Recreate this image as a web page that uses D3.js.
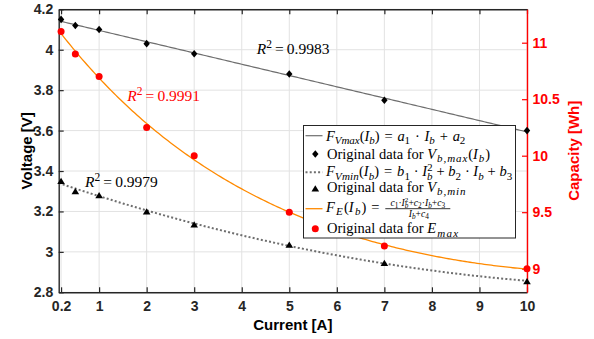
<!DOCTYPE html>
<html><head><meta charset="utf-8">
<script src="https://cdn.jsdelivr.net/npm/d3@7"></script>
<style>
body{margin:0;background:#fff}
svg{display:block}
.tick text{font-family:"Liberation Sans",Arial,sans-serif;font-weight:bold;font-size:14px}
.mtxt{font-family:"Liberation Serif","Times New Roman",serif}
</style>
</head><body><svg id="chart" width="594" height="339"></svg>
<script>
// Measured battery data versus discharge current
const current = [0.2, 0.5, 1, 2, 3, 5, 7, 10];
const vMax = [4.15, 4.12, 4.10, 4.03, 3.98, 3.88, 3.75, 3.60];
const vMin = [3.35, 3.30, 3.28, 3.20, 3.135, 3.035, 2.945, 2.855];
const eMax = [11.10, 10.90, 10.70, 10.25, 10.00, 9.50, 9.20, 9.00];

const xTicks = [0.2, 1, 2, 3, 4, 5, 6, 7, 8, 9, 10];
const vTicks = [2.8, 3, 3.2, 3.4, 3.6, 3.8, 4, 4.2];
const eTicks = [9, 9.5, 10, 10.5, 11];
const r2Values = ["0.9983", "0.9991", "0.9979"];

const L = 58.7, R = 527, T = 9.3, B = 292.3;

const svg = d3.select("#chart");
const x = d3.scaleLinear().domain([0.15, 10]).range([L, R]);
const yV = d3.scaleLinear().domain([2.8, 4.2]).range([B, T]);
const yE = d3.scaleLinear().domain([8.791, 11.2956]).range([B, T]);

// ---- least squares helpers ----
function solve(A, b) {
  const n = b.length, M = A.map((r, i) => [...r, b[i]]);
  for (let c = 0; c < n; c++) {
    let p = c;
    for (let r = c + 1; r < n; r++) if (Math.abs(M[r][c]) > Math.abs(M[p][c])) p = r;
    [M[c], M[p]] = [M[p], M[c]];
    for (let r = 0; r < n; r++) {
      if (r === c) continue;
      const f = M[r][c] / M[c][c];
      for (let k = c; k <= n; k++) M[r][k] -= f * M[c][k];
    }
  }
  return M.map((r, i) => r[n] / r[i]);
}
function leastSquares(basis, xs, ys) {
  const rows = xs.map(basis), m = rows[0].length;
  const A = d3.range(m).map(i => d3.range(m).map(j => d3.sum(rows, r => r[i] * r[j])));
  const b = d3.range(m).map(i => d3.sum(rows, (r, k) => r[i] * ys[k]));
  return solve(A, b);
}

// F_Vmax: linear
const a = leastSquares(I => [I, 1], current, vMax);
const fVmax = I => a[0] * I + a[1];
// F_Vmin: quadratic
const bq = leastSquares(I => [I * I, I, 1], current, vMin);
const fVmin = I => bq[0] * I * I + bq[1] * I + bq[2];
// F_E: rational (c1 I^2 + c2 I + c3) / (I + c4), scan c4
let best = null;
for (let c4 = 0.2; c4 <= 40; c4 += 0.05) {
  const c = leastSquares(I => [I * I / (I + c4), I / (I + c4), 1 / (I + c4)], current, eMax);
  const f = I => (c[0] * I * I + c[1] * I + c[2]) / (I + c4);
  const sse = d3.sum(current, (I, k) => (f(I) - eMax[k]) ** 2);
  if (!best || sse < best.sse) best = {sse, f};
}
const fE = best.f;

const samples = d3.range(0.15, 10.0001, 0.05);

// ---- grid ----
const grid = svg.append("g").attr("stroke", "#e2e2e2").attr("stroke-width", 1);
grid.selectAll(".gx").data(xTicks).join("line")
  .attr("x1", d => x(d)).attr("x2", d => x(d)).attr("y1", T).attr("y2", B);
grid.selectAll(".gy").data(vTicks).join("line")
  .attr("x1", L).attr("x2", R).attr("y1", d => yV(d)).attr("y2", d => yV(d));

// ---- axes ----
const fmt = d => d3.format("~g")(d);
function styleAxis(g, color) {
  g.select(".domain").attr("stroke", color).attr("stroke-width", 1.4);
  g.selectAll(".tick line").attr("stroke", color).attr("stroke-width", 1.2);
  g.selectAll(".tick text").attr("fill", color);
}
svg.append("g").attr("transform", `translate(0,${B})`)
  .call(d3.axisBottom(x).tickValues(xTicks).tickFormat(fmt).tickSizeInner(-5).tickSizeOuter(0).tickPadding(9))
  .call(g => styleAxis(g, "#262626"));
svg.append("g").attr("transform", `translate(0,${T})`)
  .call(d3.axisTop(x).tickValues(xTicks).tickFormat("").tickSizeInner(-5).tickSizeOuter(0))
  .call(g => styleAxis(g, "#262626"));
svg.append("g").attr("transform", `translate(${L},0)`)
  .call(d3.axisLeft(yV).tickValues(vTicks).tickFormat(fmt).tickSizeInner(-5).tickSizeOuter(0).tickPadding(5.5))
  .call(g => styleAxis(g, "#262626"));
svg.append("g").attr("transform", `translate(${R},0)`)
  .call(d3.axisRight(yE).tickValues(eTicks).tickFormat(fmt).tickSizeInner(-5).tickSizeOuter(0).tickPadding(5.5))
  .call(g => styleAxis(g, "#ff0000"));

// axis titles
const title = (txt, tx, ty, rot, color) => svg.append("text")
  .attr("transform", `translate(${tx},${ty}) rotate(${rot})`)
  .attr("text-anchor", "middle").attr("dominant-baseline", rot ? "central" : "auto")
  .attr("font-family", "Liberation Sans, Arial, sans-serif").attr("font-weight", "bold")
  .attr("font-size", 15).attr("fill", color).text(txt);
title("Voltage [V]", 26, (T + B) / 2, -90, "#000");
title("Capacity [Wh]", 573.5, (T + B) / 2, -90, "#ff0000");
title("Current [A]", (L + R) / 2, 330, 0, "#000");

// ---- curves ----
svg.append("clipPath").attr("id", "plot").append("rect")
  .attr("x", L).attr("y", T).attr("width", R - L).attr("height", B - T);
const curves = svg.append("g").attr("clip-path", "url(#plot)").attr("fill", "none");
curves.append("path").attr("d", d3.line(d => x(d), d => yV(fVmax(d)))(samples))
  .attr("stroke", "#6e6e6e").attr("stroke-width", 1.2);
curves.append("path").attr("d", d3.line(d => x(d), d => yV(fVmin(d)))(samples))
  .attr("stroke", "#6e6e6e").attr("stroke-width", 2).attr("stroke-dasharray", "2 2.2");
curves.append("path").attr("d", d3.line(d => x(d), d => yE(fE(d)))(samples))
  .attr("stroke", "#ff8a00").attr("stroke-width", 1.3);

// ---- markers ----
const diamond = "M0,-3.8L3.2,0L0,3.8L-3.2,0Z";
const triangle = "M0,-3.3L3.8,3L-3.8,3Z";
const marks = svg.append("g");
marks.selectAll(".dm").data(current).join("path")
  .attr("d", diamond).attr("fill", "#000")
  .attr("transform", (d, i) => `translate(${x(d)},${yV(vMax[i])})`);
marks.selectAll(".tr").data(current).join("path")
  .attr("d", triangle).attr("fill", "#000")
  .attr("transform", (d, i) => `translate(${x(d)},${yV(vMin[i])})`);
marks.selectAll(".ci").data(current).join("circle")
  .attr("cx", d => x(d)).attr("cy", (d, i) => yE(eMax[i])).attr("r", 3.5).attr("fill", "#ff0000");

// ---- math-style text builder ----
// part: [text, kind, dx] kind: "" roman, "i" italic, "sub" italic subscript,
// "subr" roman subscript, "supr" roman superscript
function mathText(parent, parts, px, py, size, color) {
  const t = parent.append("text").attr("class", "mtxt").attr("x", px).attr("y", py)
    .attr("font-size", size).attr("fill", color || "#000").attr("xml:space", "preserve");
  let shift = 0;
  parts.forEach(([txt, kind, dx]) => {
    let s = 0, fs = size, it = false;
    if (kind === "i") it = true;
    if (kind === "sub") { s = 0.24 * size; fs = 0.76 * size; it = true; }
    if (kind === "subr") { s = 0.24 * size; fs = 0.76 * size; }
    if (kind === "supr") { s = -0.4 * size; fs = 0.74 * size; }
    const ts = t.append("tspan").attr("dy", s - shift).attr("font-size", fs)
      .attr("font-style", it ? "italic" : "normal").attr("class", kind ? "m" : "r").text(txt);
    if (dx) ts.attr("dx", dx);
    shift = s;
  });
  return t;
}
// adjust spacing of the math symbols of a legend row so that it ends close to endX
function spreadMath(t, endX) {
  const bb = t.node().getBBox();
  const spans = t.selectAll("tspan.m");
  let n = 0;
  spans.each(function () { n += this.textContent.length; });
  const extra = endX - (bb.x + bb.width);
  if (n) spans.attr("letter-spacing", Math.max(-0.8, Math.min(extra / n, 1.2)));
}

// ---- R² annotations ----
const r2Pos = [[256.7, 54.3, "#000"], [127.3, 101, "#ff0000"], [85, 186.7, "#000"]];
r2Values.forEach((v, i) => {
  const [px, py, col] = r2Pos[i];
  mathText(svg, [["R", "i"], ["2", "supr"], ["\u2009=\u2009" + v, ""]], px, py, 15.5, col);
});

// ---- legend ----
const lg = svg.append("g");
lg.append("rect").attr("x", 303.5).attr("y", 125.5).attr("width", 212).attr("height", 112.5)
  .attr("fill", "#fff").attr("stroke", "#262626").attr("stroke-width", 1);
const symY = [135.7, 154, 172.3, 188.5, 208.7, 228.7];
const baseY = [140.5, 158.7, 176.3, 192, 212, 233.3];
const tx = 326, fs = 14.5, sp = "\u2004", sp3 = "\u2005";
lg.append("line").attr("x1", 305.5).attr("x2", 322.5).attr("y1", symY[0]).attr("y2", symY[0])
  .attr("stroke", "#6e6e6e").attr("stroke-width", 1.2);
lg.append("line").attr("x1", 305.5).attr("x2", 322.5).attr("y1", symY[2]).attr("y2", symY[2])
  .attr("stroke", "#6e6e6e").attr("stroke-width", 2).attr("stroke-dasharray", "2 2.2");
lg.append("line").attr("x1", 305.5).attr("x2", 322.5).attr("y1", symY[4]).attr("y2", symY[4])
  .attr("stroke", "#ff8a00").attr("stroke-width", 1.3);
lg.append("path").attr("d", diamond).attr("transform", `translate(315.3,${symY[1]})`);
lg.append("path").attr("d", triangle).attr("transform", `translate(315.3,${symY[3]})`);
lg.append("circle").attr("cx", 315.3).attr("cy", symY[5]).attr("r", 3.5).attr("fill", "#ff0000");

const r1 = mathText(lg, [["F", "i"], ["Vmax", "sub"], ["(", ""], ["I", "i"], ["b", "sub"], [")" + sp + "=" + sp, ""],
  ["a", "i"], ["1", "subr"], [sp + "·" + sp, ""], ["I", "i"], ["b", "sub"], [sp + "+" + sp, ""], ["a", "i"], ["2", "subr"]],
  tx, baseY[0], fs);
spreadMath(r1, 465.3);
const r2 = mathText(lg, [["Original data for ", ""], ["V", "i"], ["b,max", "sub"], ["(", ""], ["I", "i"], ["b", "sub"], [")", ""]],
  tx + 1, baseY[1], fs);
spreadMath(r2, 490.3);
const r3 = mathText(lg, [["F", "i"], ["Vmin", "sub"], ["(", ""], ["I", "i"], ["b", "sub"], [")" + sp + "=" + sp, ""],
  ["b", "i"], ["1", "subr"], [sp3 + "·" + sp3, ""], ["I", "i"], ["2", "supr"], ["b", "sub", -5.6], [sp3 + "+" + sp3, ""],
  ["b", "i"], ["2", "subr"], [sp3 + "·" + sp3, ""], ["I", "i"], ["b", "sub"], [sp3 + "+" + sp3, ""], ["b", "i"], ["3", "subr"]],
  tx, baseY[2], fs);
spreadMath(r3, 513);
const r4 = mathText(lg, [["Original data for ", ""], ["V", "i"], ["b,min", "sub"]],
  tx + 1, baseY[3], fs);
spreadMath(r4, 467);
const r5 = mathText(lg, [["F", "i"], ["E", "sub"], ["(", ""], ["I", "i"], ["b", "sub"], [")" + sp + "=", ""]],
  tx, baseY[4], fs);
spreadMath(r5, 380.3);
// fraction
const fx = 385.3, fw = 65;
lg.append("line").attr("x1", fx).attr("x2", fx + fw).attr("y1", 208.7).attr("y2", 208.7)
  .attr("stroke", "#000").attr("stroke-width", 0.8);
mathText(lg, [["c", "i"], ["1", "subr"], ["·", ""], ["I", "i"], ["2", "supr"], ["b", "sub", -3.6], ["+", ""],
  ["c", "i"], ["2", "subr"], ["·", ""], ["I", "i"], ["b", "sub"], ["+", ""], ["c", "i"], ["3", "subr"]],
  fx + fw / 2, 205.5, 9.6).attr("text-anchor", "middle");
mathText(lg, [["I", "i"], ["b", "sub"], ["+", ""], ["c", "i"], ["4", "subr"]],
  fx + fw / 2 + 1, 217, 9.6).attr("text-anchor", "middle");
const r6 = mathText(lg, [["Original data for ", ""], ["E", "i"], ["max", "sub"]],
  tx + 1, baseY[5], fs);
spreadMath(r6, 463.7);
</script>
</body></html>
